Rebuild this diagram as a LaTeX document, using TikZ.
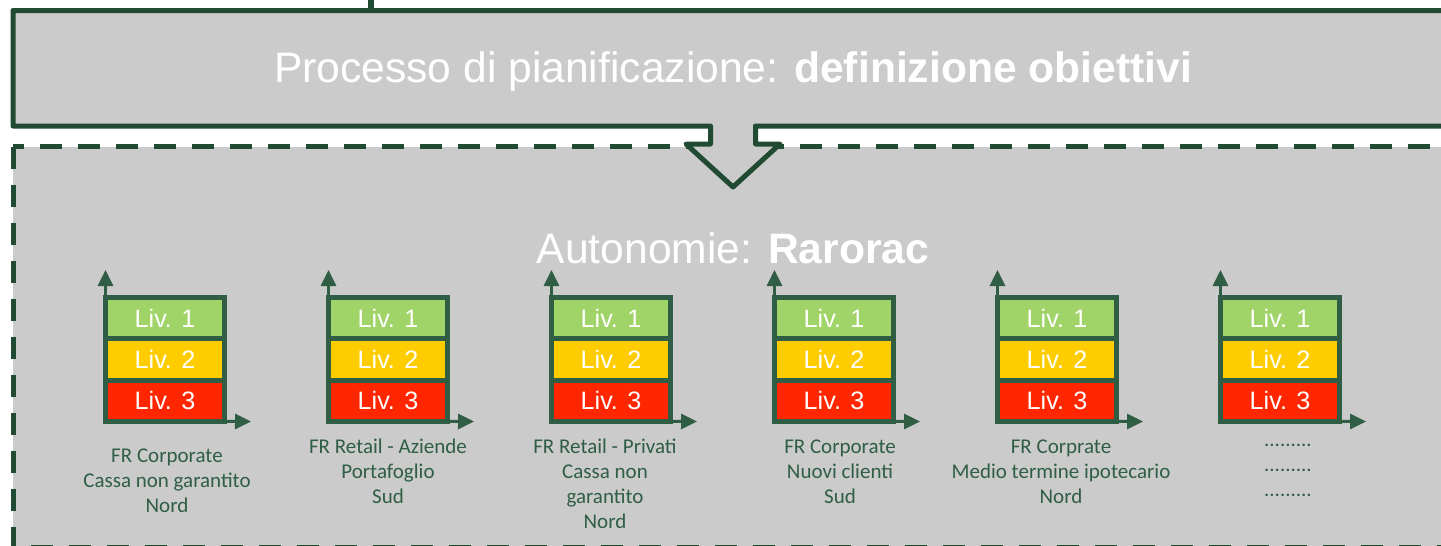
\documentclass[tikz,border=0pt]{standalone}
\usepackage{fontspec}
\setmainfont{Liberation Sans}
\newfontfamily\calibri{Carlito}
\usetikzlibrary{arrows.meta}
\definecolor{boxgreen}{HTML}{214A32}
\definecolor{stackgreen}{HTML}{2F5E45}
\definecolor{panelgray}{HTML}{CBCBCB}
\definecolor{liva}{HTML}{A0D468}
\definecolor{livb}{HTML}{FFCC00}
\definecolor{livc}{HTML}{FF2600}
\begin{document}
\begin{tikzpicture}[x=0.5pt,y=0.5pt,
	frame/.style={draw=boxgreen,line width=2.5pt,fill=panelgray,line join=round},
	livbox/.style={draw=stackgreen,line width=2.5pt,minimum width=59.5pt,minimum height=20.67pt,inner sep=0pt,outer sep=0pt,text=white,font=\fontsize{12.6}{15}\selectfont},
	axis/.style={stackgreen,line width=1.5pt,-{Triangle[width=7.5pt,length=8pt]}},
	caption/.style={text=stackgreen,align=center,anchor=north,inner sep=0pt,font=\calibri\fontsize{10.5}{12.5}\selectfont},
	title/.style={text=white,anchor=base,inner sep=0pt,font=\fontsize{21.3}{25}\selectfont}]
	\fill[white] (0,0) rectangle (1441,-546);
	\useasboundingbox (0,0) rectangle (1441,-546);

	\draw[frame,dash pattern=on 11pt off 8pt,line join=miter] (13,-146.5) rectangle (1480,-547);
	\draw[boxgreen,line width=3pt] (371,2) -- (371,-10.5);
	\draw[frame] (13,-10.5) -- (1480,-10.5) -- (1480,-126) -- (755.5,-126) -- (755.5,-144) -- (780,-144)
		-- (733,-187) -- (686,-144) -- (710.5,-144) -- (710.5,-126) -- (13,-126) -- cycle;

	\node[title] (plan) at (733,-83) {Processo di pianificazione: \textbf{definizione obiettivi}};
	\node[title] (auto) at (733,-263) {Autonomie: \textbf{Rarorac}};

	\foreach \i/\x in {1/165,2/388,3/611,4/834,5/1057,6/1280}{
		\node[livbox,fill=liva] (a\i) at (\x,-318.2) {Liv. 1};
		\node[livbox,fill=livb] (b\i) at (\x,-359.5) {Liv. 2};
		\node[livbox,fill=livc] (c\i) at (\x,-400.8) {Liv. 3};
		\coordinate (ytip\i) at (\x-59.5,-270);
		\coordinate (xtip\i) at (\x+86,-421.5);
		\draw[axis] (a\i.north west) -- (ytip\i);
		\draw[axis] (c\i.south east) -- (xtip\i);
	}

	\node[caption] (cap1) at (167,-444.5) {\strut FR Corporate\\Cassa non garantito\\Nord};
	\node[caption] (cap2) at (388,-435.5) {\strut FR Retail - Aziende\\Portafoglio\\Sud};
	\node[caption] (cap3) at (605,-435.5) {\strut FR Retail - Privati\\Cassa non\\garantito\\Nord};
	\node[caption] (cap4) at (840,-435.5) {\strut FR Corporate\\Nuovi clienti\\Sud};
	\node[caption] (cap5) at (1061,-435.5) {\strut FR Corprate\\Medio termine ipotecario\\Nord};
	\node[caption] (cap6) at (1288,-429) {\strut .........\\.........\\.........};
\end{tikzpicture}
\end{document}
